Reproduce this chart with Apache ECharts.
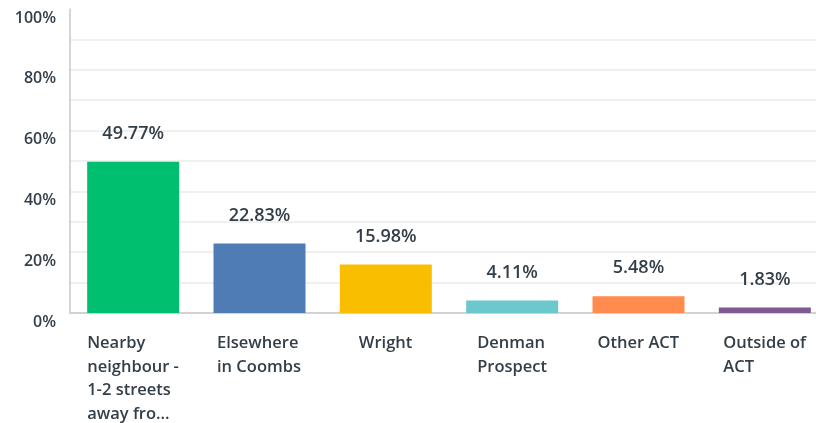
<!DOCTYPE html>
<html>
<head>
<meta charset="utf-8">
<script src="https://cdn.jsdelivr.net/npm/echarts@6/dist/echarts.min.js"></script>
<style>
  html, body { margin: 0; padding: 0; background: #fff; overflow: hidden; }
  /* the plot runs a little past the right edge of the window, as in the original crop */
  #main { width: 828px; height: 423px; }
</style>
</head>
<body>
<div id="main"></div>
<script>
// data
var categories = [
    'Nearby\nneighbour -\n1-2 streets\naway fro...',
    'Elsewhere\nin Coombs',
    'Wright',
    'Denman\nProspect',
    'Other ACT',
    'Outside of\nACT'
];
var values = [49.77, 22.83, 15.98, 4.11, 5.48, 1.83];
var colors = ['#00bf6f', '#507cb6', '#f9be00', '#6bc8cd', '#ff8b4f', '#7f5a91'];
var yTicks = [0, 20, 40, 60, 80, 100];

var FONT = '"Open Sans", "Liberation Sans", sans-serif';
var textColor = '#333e48';
var catSize = 16.5;

// width of the widest line, so wrapped lines sit left-aligned in a centred block
var ctx = document.createElement('canvas').getContext('2d');
ctx.font = '600 ' + catSize + 'px ' + FONT;
var rich = {};
categories.forEach(function (c, i) {
    var w = 0;
    c.split('\n').forEach(function (l) { w = Math.max(w, ctx.measureText(l).width); });
    rich['l' + i] = { width: Math.ceil(w), align: 'left', fontSize: catSize, fontWeight: 600,
        fontFamily: FONT, color: textColor, lineHeight: 23.5 };
});

var chart = echarts.init(document.getElementById('main'));
var option = {
    animation: false,
    grid: { left: 70, right: 0, top: 9, bottom: 110, containLabel: false },
    xAxis: {
        type: 'category',
        data: categories,
        axisLine: { lineStyle: { color: '#c8c8c8', width: 1.5 } },
        axisTick: { show: false },
        axisLabel: {
            interval: 0,
            margin: 19,
            verticalAlign: 'top',
            formatter: function (v, i) {
                return v.split('\n').map(function (l) { return '{l' + i + '|' + l + '}'; }).join('\n');
            },
            rich: rich
        }
    },
    yAxis: {
        type: 'value',
        min: 0,
        max: 100,
        interval: 10,
        axisLine: { show: true, lineStyle: { color: '#c8c8c8', width: 1.5 } },
        axisTick: { show: false },
        splitLine: { showMaxLine: false, lineStyle: { color: '#ebebeb', width: 1.5 } },
        axisLabel: {
            margin: 14,
            verticalAlign: 'top',
            padding: [1, 0, 0, 0],
            color: textColor,
            fontSize: 16,
            fontWeight: 600,
            fontFamily: FONT,
            formatter: function (v) { return yTicks.indexOf(v) >= 0 ? v + '%' : ''; }
        }
    },
    series: [{
        type: 'bar',
        barWidth: 92,
        data: values.map(function (v, i) {
            return { value: v, itemStyle: { color: colors[i] } };
        }),
        label: {
            show: true,
            position: 'top',
            distance: 19,
            color: textColor,
            fontSize: 18,
            fontWeight: 600,
            fontFamily: FONT,
            formatter: function (p) { return p.value.toFixed(2) + '%'; }
        }
    }]
};
chart.setOption(option);
</script>
</body>
</html>
